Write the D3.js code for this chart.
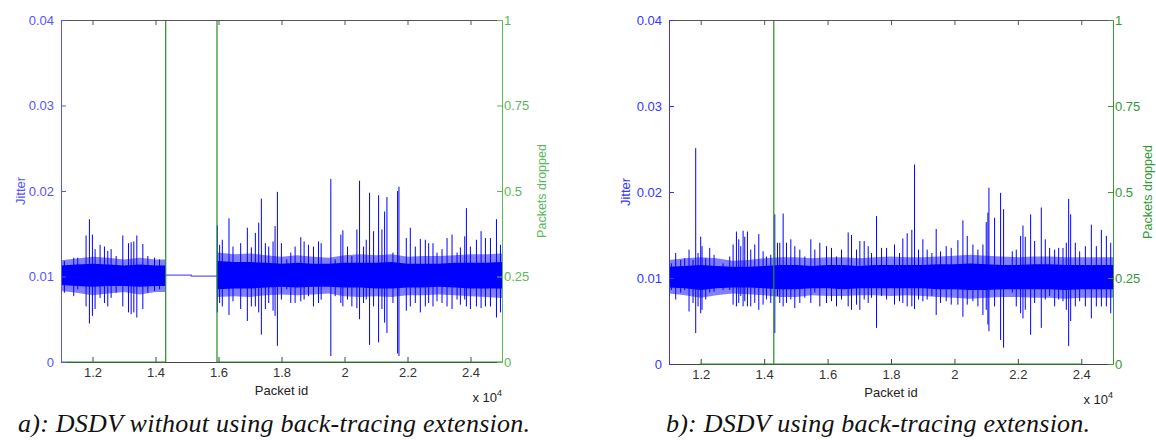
<!DOCTYPE html>
<html>
<head>
<meta charset="utf-8">
<script src="https://cdn.jsdelivr.net/npm/d3@7"></script>
<style>
  body { margin: 0; background: #fff; }
  .caption { font-family: 'Liberation Serif', 'Times New Roman', 'DejaVu Serif', serif; font-style: italic; }
</style>
</head>
<body>
<div id="viz"></div>
<script>
// shared ticks
const xTicks = [12000, 14000, 16000, 18000, 20000, 22000, 24000];
const jitterTicks = [0, 0.01, 0.02, 0.03, 0.04];
const dropTicks = [0, 0.25, 0.5, 0.75, 1];

// ---- panel a: without back-tracing ----
// dense jitter band (null = break for the dropped stretch)
const aBandIds = [11000, 11500, 12000, 12500, 13000, 13500, 14000, 14324, null,
  15952, 16500, 17000, 17500, 18000, 18500, 19000, 19500, 20000, 20500, 21000,
  21500, 22000, 22500, 23000, 23500, 24000, 24500, 25000];
const aCoreHi = [0.0113, 0.0114, 0.0115, 0.0114, 0.0113, 0.0114, 0.0113, 0.0113, null,
  0.0118, 0.0117, 0.0117, 0.0116, 0.0115, 0.0116, 0.0115, 0.0115, 0.0116, 0.0116, 0.0116,
  0.0117, 0.0115, 0.0115, 0.0115, 0.0116, 0.0116, 0.0116, 0.0117];
const aCoreLo = [0.0090, 0.0089, 0.0088, 0.0089, 0.0089, 0.0088, 0.0089, 0.0089, null,
  0.0085, 0.0086, 0.0086, 0.0087, 0.0088, 0.0087, 0.0088, 0.0088, 0.0087, 0.0087, 0.0086,
  0.0086, 0.0087, 0.0087, 0.0088, 0.0087, 0.0086, 0.0086, 0.0086];
const aBandHi = [0.0119, 0.0121, 0.0123, 0.0122, 0.0120, 0.0122, 0.0120, 0.0120, null,
  0.0128, 0.0126, 0.0127, 0.0125, 0.0123, 0.0125, 0.0123, 0.0122, 0.0125, 0.0126, 0.0125,
  0.0126, 0.0123, 0.0124, 0.0124, 0.0125, 0.0126, 0.0126, 0.0127];
const aBandLo = [0.0083, 0.0081, 0.0078, 0.0080, 0.0082, 0.0079, 0.0082, 0.0082, null,
  0.0076, 0.0077, 0.0076, 0.0078, 0.0079, 0.0078, 0.0079, 0.0080, 0.0077, 0.0076, 0.0077,
  0.0076, 0.0078, 0.0078, 0.0079, 0.0078, 0.0077, 0.0076, 0.0075];
// flat jitter while packets are dropped
const aFlatIds = [14324, 15137, 15137, 15952];
const aFlatVals = [0.01015, 0.01015, 0.01004, 0.01004];
// spikes: packet id, top, bottom
const aSpikeIds = [11107, 11404, 11531, 11796, 11902, 11997, 12082, 12241, 12379, 12485,
  12591, 12750, 12962, 13142, 13227, 13312, 13407, 13598, 13757, 13969,
  14128, 15962, 16036, 16121, 16333, 16460, 16704, 16916, 17043, 17170,
  17276, 17361, 17488, 17594, 17732, 17796, 17870, 17997, 18167, 18294,
  18432, 18612, 18718, 18856, 19015, 19174, 19259, 19566, 19704, 19884,
  19948, 20096, 20234, 20393, 20478, 20605, 20690, 20796, 20923, 21082,
  21188, 21273, 21347, 21538, 21686, 21729, 21962, 22089, 22248, 22407,
  22566, 22672, 22810, 22937, 23096, 23255, 23414, 23573, 23679, 23817,
  23870, 23997, 24188, 24336, 24474, 24633, 24824, 24951];
const aSpikeHi = [0.0118, 0.0122, 0.0122, 0.0148, 0.0167, 0.0149, 0.0132, 0.0137, 0.0135, 0.0130,
  0.0132, 0.0124, 0.0148, 0.0139, 0.0140, 0.0141, 0.0148, 0.0138, 0.0124, 0.0122,
  0.0120, 0.0160, 0.0137, 0.0143, 0.0168, 0.0135, 0.0139, 0.0157, 0.0134, 0.0151,
  0.0163, 0.0191, 0.0139, 0.0135, 0.0141, 0.0159, 0.0199, 0.0139, 0.0120, 0.0128,
  0.0135, 0.0146, 0.0141, 0.0137, 0.0135, 0.0141, 0.0139, 0.0214, 0.0120, 0.0149,
  0.0154, 0.0135, 0.0124, 0.0155, 0.0212, 0.0135, 0.0143, 0.0198, 0.0153, 0.0195,
  0.0155, 0.0176, 0.0193, 0.0128, 0.0200, 0.0205, 0.0145, 0.0157, 0.0135, 0.0144,
  0.0143, 0.0139, 0.0139, 0.0128, 0.0132, 0.0145, 0.0149, 0.0128, 0.0134, 0.0147,
  0.0180, 0.0135, 0.0143, 0.0153, 0.0145, 0.0145, 0.0167, 0.0137];
const aSpikeLo = [0.0081, 0.0077, 0.0085, 0.0065, 0.0045, 0.0054, 0.0062, 0.0075, 0.0069, 0.0065,
  0.0075, 0.0081, 0.0065, 0.0058, 0.0056, 0.0058, 0.0052, 0.0062, 0.0081, 0.0083,
  0.0085, 0.0058, 0.0069, 0.0065, 0.0055, 0.0071, 0.0062, 0.0048, 0.0065, 0.0065,
  0.0058, 0.0032, 0.0062, 0.0069, 0.0060, 0.0054, 0.0019, 0.0073, 0.0085, 0.0069,
  0.0069, 0.0071, 0.0073, 0.0077, 0.0065, 0.0069, 0.0073, 0.0007, 0.0077, 0.0069,
  0.0065, 0.0073, 0.0065, 0.0063, 0.0050, 0.0069, 0.0073, 0.0020, 0.0065, 0.0023,
  0.0062, 0.0046, 0.0034, 0.0069, 0.0010, 0.0007, 0.0060, 0.0065, 0.0069, 0.0058,
  0.0065, 0.0069, 0.0065, 0.0071, 0.0069, 0.0065, 0.0062, 0.0073, 0.0067, 0.0073,
  0.0065, 0.0062, 0.0065, 0.0063, 0.0065, 0.0065, 0.0052, 0.0058];
// packets dropped
const aDropIds = [11000, 14324, 14324, 15952, 15952, 25000];
const aDropVals = [0, 0, 1, 1, 0, 0];

// ---- panel b: with back-tracing ----
const bBandIds = [11000, 11500, 12000, 12500, 13000, 13500, 14000, 14500, 15000, 15500,
  16000, 16500, 17000, 17500, 18000, 18500, 19000, 19500, 20000, 20500,
  21000, 21500, 22000, 22500, 23000, 23500, 24000, 24500, 25000];
const bCoreHi = [0.0113, 0.0114, 0.0115, 0.0114, 0.0113, 0.0113, 0.0114, 0.0115, 0.0115, 0.0114,
  0.0115, 0.0115, 0.0114, 0.0115, 0.0115, 0.0115, 0.0115, 0.0116, 0.0116, 0.0117,
  0.0116, 0.0115, 0.0115, 0.0116, 0.0116, 0.0115, 0.0115, 0.0115, 0.0115];
const bCoreLo = [0.0089, 0.0088, 0.0086, 0.0088, 0.0089, 0.0089, 0.0088, 0.0087, 0.0087, 0.0088,
  0.0088, 0.0087, 0.0088, 0.0088, 0.0088, 0.0088, 0.0088, 0.0087, 0.0087, 0.0086,
  0.0086, 0.0087, 0.0087, 0.0087, 0.0087, 0.0086, 0.0087, 0.0087, 0.0087];
const bBandHi = [0.0121, 0.0123, 0.0124, 0.0123, 0.0120, 0.0121, 0.0123, 0.0124, 0.0124, 0.0123,
  0.0124, 0.0124, 0.0123, 0.0124, 0.0125, 0.0124, 0.0124, 0.0125, 0.0126, 0.0127,
  0.0126, 0.0125, 0.0124, 0.0125, 0.0125, 0.0124, 0.0124, 0.0124, 0.0124];
const bBandLo = [0.0082, 0.0080, 0.0077, 0.0080, 0.0082, 0.0081, 0.0080, 0.0078, 0.0078, 0.0080,
  0.0079, 0.0079, 0.0080, 0.0080, 0.0079, 0.0080, 0.0079, 0.0078, 0.0077, 0.0076,
  0.0077, 0.0078, 0.0078, 0.0077, 0.0077, 0.0076, 0.0077, 0.0077, 0.0077];
const bSpikeIds = [11074, 11211, 11369, 11495, 11632, 11758, 11842, 11916, 12000, 12042,
  12158, 12284, 12421, 12705, 12915, 13021, 13126, 13199, 13263, 13336,
  13389, 13473, 13578, 13704, 13831, 13967, 14073, 14209, 14336, 14420,
  14493, 14599, 14704, 14841, 14967, 15125, 15282, 15472, 15598, 15756,
  15966, 16124, 16282, 16440, 16650, 16755, 16913, 17018, 17155, 17281,
  17386, 17544, 17702, 17860, 18110, 18268, 18373, 18510, 18657, 18742,
  18868, 19005, 19141, 19289, 19425, 19562, 19741, 19899, 20109, 20267,
  20404, 20583, 20740, 20898, 21003, 21056, 21088, 21266, 21456, 21550,
  21824, 21950, 22087, 22161, 22234, 22403, 22529, 22739, 22865, 23002,
  23160, 23286, 23423, 23528, 23602, 23665, 23812, 23949, 24128, 24317,
  24475, 24633, 24791, 24928];
const bSpikeHi = [0.0117, 0.0129, 0.0121, 0.0123, 0.0133, 0.0121, 0.0251, 0.0129, 0.0148, 0.0137,
  0.0123, 0.0135, 0.0127, 0.0117, 0.0125, 0.0139, 0.0154, 0.0145, 0.0137, 0.0155,
  0.0148, 0.0154, 0.0133, 0.0139, 0.0151, 0.0131, 0.0125, 0.0127, 0.0174, 0.0141,
  0.0141, 0.0175, 0.0141, 0.0145, 0.0137, 0.0133, 0.0125, 0.0145, 0.0133, 0.0141,
  0.0137, 0.0135, 0.0125, 0.0133, 0.0153, 0.0150, 0.0133, 0.0143, 0.0143, 0.0137,
  0.0129, 0.0172, 0.0135, 0.0135, 0.0139, 0.0129, 0.0146, 0.0152, 0.0156, 0.0232,
  0.0133, 0.0145, 0.0133, 0.0129, 0.0157, 0.0131, 0.0137, 0.0135, 0.0144, 0.0167,
  0.0149, 0.0139, 0.0133, 0.0139, 0.0165, 0.0176, 0.0205, 0.0170, 0.0199, 0.0180,
  0.0131, 0.0133, 0.0149, 0.0161, 0.0148, 0.0174, 0.0143, 0.0182, 0.0145, 0.0135,
  0.0133, 0.0135, 0.0135, 0.0141, 0.0192, 0.0174, 0.0141, 0.0131, 0.0137, 0.0162,
  0.0137, 0.0156, 0.0149, 0.0141];
const bSpikeLo = [0.0086, 0.0075, 0.0083, 0.0086, 0.0061, 0.0071, 0.0036, 0.0067, 0.0059, 0.0063,
  0.0075, 0.0083, 0.0084, 0.0086, 0.0086, 0.0069, 0.0067, 0.0071, 0.0079, 0.0067,
  0.0073, 0.0067, 0.0067, 0.0071, 0.0063, 0.0069, 0.0075, 0.0071, 0.0036, 0.0079,
  0.0071, 0.0067, 0.0071, 0.0075, 0.0065, 0.0071, 0.0077, 0.0071, 0.0083, 0.0067,
  0.0071, 0.0073, 0.0067, 0.0075, 0.0067, 0.0063, 0.0069, 0.0063, 0.0075, 0.0071,
  0.0077, 0.0042, 0.0079, 0.0075, 0.0069, 0.0073, 0.0071, 0.0067, 0.0067, 0.0064,
  0.0075, 0.0073, 0.0075, 0.0079, 0.0057, 0.0071, 0.0073, 0.0069, 0.0069, 0.0055,
  0.0069, 0.0073, 0.0067, 0.0057, 0.0063, 0.0046, 0.0038, 0.0067, 0.0028, 0.0019,
  0.0083, 0.0067, 0.0059, 0.0053, 0.0063, 0.0034, 0.0071, 0.0042, 0.0075, 0.0079,
  0.0067, 0.0075, 0.0073, 0.0063, 0.0021, 0.0050, 0.0067, 0.0073, 0.0067, 0.0053,
  0.0067, 0.0067, 0.0067, 0.0059];
const bDropIds = [11970, 14304, 14304, 14304, 24000];
const bDropVals = [0, 0, 1, 0, 0];

const svg = d3.select('#viz')
  .append('svg')
  .attr('width', 1156)
  .attr('height', 440);

const sans = '"Liberation Sans", Arial, sans-serif';

const panels = [
  { id: 'a', left: 61, right: 502, top: 20, bottom: 362, blue: '#5555ff', green: '#5cb85c',
    bandIds: aBandIds, coreHi: aCoreHi, coreLo: aCoreLo, bandHi: aBandHi, bandLo: aBandLo,
    flatIds: aFlatIds, flatVals: aFlatVals,
    spikeIds: aSpikeIds, spikeHi: aSpikeHi, spikeLo: aSpikeLo,
    dropIds: aDropIds, dropVals: aDropVals,
    jitterX: 20, dropX: 542, caption: 'a): DSDV without using back-tracing extension.', capX: 18, capW: 512 },
  { id: 'b', left: 669, right: 1113, top: 20, bottom: 364, blue: '#3535ff', green: '#339933',
    bandIds: bBandIds, coreHi: bCoreHi, coreLo: bCoreLo, bandHi: bBandHi, bandLo: bBandLo,
    flatIds: [], flatVals: [],
    spikeIds: bSpikeIds, spikeHi: bSpikeHi, spikeLo: bSpikeLo,
    dropIds: bDropIds, dropVals: bDropVals,
    jitterX: 625, dropX: 1148, caption: 'b): DSDV using back-tracing extension.', capX: 666, capW: 424 }
];

function styleAxis(g, color, textColor) {
  g.attr('color', color)
    .attr('font-family', sans)
    .attr('font-size', 13);
  g.selectAll('text').attr('fill', textColor);
}

function drawPanel(p) {
  const x = d3.scaleLinear().domain([11000, 25000]).range([p.left, p.right]);
  const y = d3.scaleLinear().domain([0, 0.04]).range([p.bottom, p.top]);
  const y2 = d3.scaleLinear().domain([0, 1]).range([p.bottom, p.top]);
  const g = svg.append('g');

  // keep the dropped line under the top frame
  g.append('clipPath')
    .attr('id', 'clip-' + p.id)
    .append('rect')
    .attr('x', p.left - 2)
    .attr('y', p.top + 1)
    .attr('width', p.right - p.left + 4)
    .attr('height', p.bottom - p.top + 2);

  // bottom axis (under the data)
  g.append('g')
    .attr('transform', `translate(0,${p.bottom})`)
    .call(d3.axisBottom(x).tickValues(xTicks).tickSize(-5).tickSizeOuter(0).tickPadding(6)
      .tickFormat(d => d / 10000))
    .call(ax => styleAxis(ax, '#444', '#333'));

  // jitter band
  const band = p.bandIds.map((id, i) => ({ id, hi: p.bandHi[i], lo: p.bandLo[i], chi: p.coreHi[i], clo: p.coreLo[i] }));
  g.append('path')
    .datum(band)
    .attr('fill', '#0000ff')
    .attr('fill-opacity', 0.5)
    .attr('d', d3.area().defined(d => d.id != null)
      .x(d => x(d.id)).y0(d => y(d.lo)).y1(d => y(d.hi)));
  g.append('path')
    .datum(band)
    .attr('fill', '#0000ff')
    .attr('d', d3.area().defined(d => d.id != null)
      .x(d => x(d.id)).y0(d => y(d.clo)).y1(d => y(d.chi)));

  // flat part
  if (p.flatIds.length) {
    g.append('path')
      .datum(p.flatIds.map((id, i) => [id, p.flatVals[i]]))
      .attr('fill', 'none')
      .attr('stroke', '#5a5aff')
      .attr('stroke-width', 1.2)
      .attr('d', d3.line().x(d => x(d[0])).y(d => y(d[1])));
  }

  // spikes
  g.append('g')
    .selectAll('line')
    .data(p.spikeIds)
    .join('line')
    .attr('x1', d => x(d))
    .attr('x2', d => x(d))
    .attr('y1', (d, i) => y(p.spikeHi[i]))
    .attr('y2', (d, i) => y(p.spikeLo[i]))
    .attr('stroke', '#0000ff')
    .attr('stroke-width', 1);

  // packets dropped
  g.append('path')
    .datum(p.dropIds.map((id, i) => [id, p.dropVals[i]]))
    .attr('clip-path', `url(#clip-${p.id})`)
    .attr('fill', 'none')
    .attr('stroke', '#2a8c2a')
    .attr('stroke-width', 1.2)
    .attr('d', d3.line().x(d => x(d[0])).y(d => y2(d[1])));

  // top frame
  g.append('g')
    .attr('transform', `translate(0,${p.top})`)
    .call(d3.axisTop(x).tickValues(xTicks).tickSize(-5).tickSizeOuter(0).tickFormat(''))
    .call(ax => styleAxis(ax, '#555', '#333'));

  // left axis
  g.append('g')
    .attr('transform', `translate(${p.left},0)`)
    .call(d3.axisLeft(y).tickValues(jitterTicks).tickSize(-5).tickSizeOuter(0).tickPadding(7)
      .tickFormat(d => d))
    .call(ax => styleAxis(ax, p.blue, p.blue));

  // right axis
  g.append('g')
    .attr('transform', `translate(${p.right},0)`)
    .call(d3.axisRight(y2).tickValues(dropTicks).tickSize(-5).tickSizeOuter(0).tickPadding(2)
      .tickFormat(d => d))
    .call(ax => styleAxis(ax, p.green, p.green));

  // labels
  g.append('text')
    .attr('transform', `translate(${p.jitterX},${(p.top + p.bottom) / 2}) rotate(-90)`)
    .attr('text-anchor', 'middle')
    .attr('dominant-baseline', 'central')
    .attr('font-family', sans)
    .attr('font-size', 13)
    .attr('fill', p.blue)
    .text('Jitter');

  g.append('text')
    .attr('transform', `translate(${p.dropX},${(p.top + p.bottom) / 2}) rotate(-90)`)
    .attr('text-anchor', 'middle')
    .attr('dominant-baseline', 'central')
    .attr('font-family', sans)
    .attr('font-size', 12.5)
    .attr('fill', p.green)
    .text('Packets dropped');

  g.append('text')
    .attr('x', (p.left + p.right) / 2)
    .attr('y', p.bottom + 33)
    .attr('text-anchor', 'middle')
    .attr('font-family', sans)
    .attr('font-size', 13)
    .attr('fill', '#222')
    .text('Packet id');

  const exp = g.append('text')
    .attr('x', p.right)
    .attr('y', p.bottom + 40)
    .attr('text-anchor', 'end')
    .attr('font-family', sans)
    .attr('font-size', 13)
    .attr('fill', '#222');
  exp.append('tspan').text('x 10');
  exp.append('tspan').attr('dy', -6).attr('font-size', 9).text('4');

  // caption in serif italic
  g.append('text')
    .attr('class', 'caption')
    .attr('x', p.capX)
    .attr('y', 432)
    .attr('font-size', 26)
    .attr('textLength', p.capW)
    .attr('lengthAdjust', 'spacing')
    .attr('fill', '#111')
    .text(p.caption);
}

panels.forEach(drawPanel);
</script>
</body>
</html>
